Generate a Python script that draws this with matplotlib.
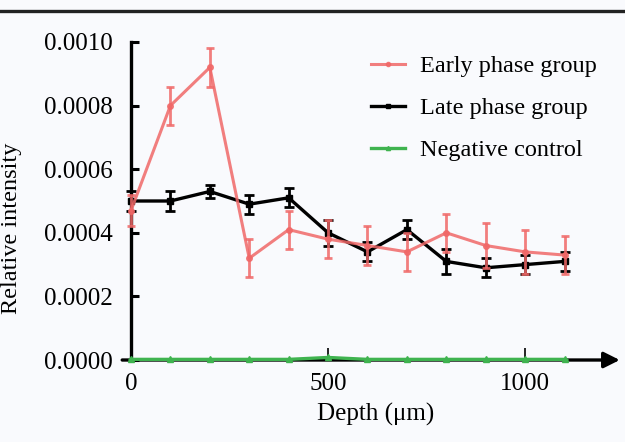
import numpy as np
import matplotlib.pyplot as plt
from matplotlib.lines import Line2D

plt.rcParams['font.family'] = ['Liberation Serif', 'DejaVu Serif']

depth = [0, 100, 200, 300, 400, 500, 600, 700, 800, 900, 1000, 1100]

early = [0.00047, 0.00080, 0.00092, 0.00032, 0.00041, 0.00038,
         0.00036, 0.00034, 0.00040, 0.00036, 0.00034, 0.00033]
early_err = [0.00005, 0.00006, 0.00006, 0.00006, 0.00006, 0.00006,
             0.00006, 0.00006, 0.00006, 0.00007, 0.00007, 0.00006]

late = [0.00050, 0.00050, 0.00053, 0.00049, 0.00051, 0.00040,
        0.00034, 0.00041, 0.00031, 0.00029, 0.00030, 0.00031]
late_err = [0.00003, 0.00003, 0.00002, 0.00003, 0.00003, 0.00004,
            0.00003, 0.00003, 0.00004, 0.00003, 0.00003, 0.00003]

neg = [0.000002, 0.000002, 0.000002, 0.000002, 0.000002, 0.000008,
       0.000002, 0.000002, 0.000002, 0.000002, 0.000002, 0.000002]
neg_err = [0.000001] * 12

red = '#f06868'
green = '#3fb34f'

bg = '#f9fafd'
fig = plt.figure(figsize=(6.25, 4.42), dpi=100, facecolor=bg)
ax = fig.add_axes([0.2096, 0.1855, 0.782, 0.7195], facecolor=bg)

# top rule across the figure
fig.add_artist(Line2D([0, 1], [0.975, 0.975], color='#222222', lw=2.4,
                      transform=fig.transFigure))

ax.errorbar(depth, late, yerr=late_err, color='black', lw=2.4, marker='s',
            ms=4, capsize=3.5, capthick=2, elinewidth=2, clip_on=False, zorder=3)
ax.errorbar(depth, early, yerr=early_err, color=red, alpha=0.85, lw=2.2,
            marker='o', ms=4, capsize=3, capthick=2, elinewidth=2,
            clip_on=False, zorder=4)
ax.errorbar(depth, neg, yerr=neg_err, color=green, lw=2.4, marker='^',
            ms=4, capsize=2, clip_on=False, zorder=5)

ax.set_xlim(0, 1240)
ax.set_ylim(0, 0.001)
ax.set_xticks([0, 500, 1000])
ax.set_yticks(np.arange(0, 0.00101, 0.0002))
ax.yaxis.set_major_formatter(plt.FuncFormatter(lambda v, p: f'{v:.4f}'))

for s in ['top', 'right', 'bottom']:
    ax.spines[s].set_visible(False)
ax.spines['left'].set_linewidth(2.4)

ax.tick_params(axis='y', direction='in', length=6, width=2.2, pad=13,
               labelsize=18)
ax.tick_params(axis='x', direction='in', length=9, width=1.2, pad=9,
               labelsize=18)

# x axis with arrow head
ax.annotate('', xy=(1.0, 0), xytext=(-0.018, 0), xycoords='axes fraction',
            arrowprops=dict(arrowstyle='-|>', lw=2.4, color='black',
                            mutation_scale=24, shrinkA=0, shrinkB=0),
            zorder=2)

ax.set_xlabel('Depth (μm)', fontsize=18, labelpad=6)
ax.set_ylabel('Relative intensity', fontsize=17.5)
ax.yaxis.set_label_coords(-0.223, 0.415)

handles = [Line2D([], [], color=red, alpha=0.85, lw=2.2, marker='o', ms=3),
           Line2D([], [], color='black', lw=2.4, marker='s', ms=3),
           Line2D([], [], color=green, lw=2.4, marker='^', ms=3)]
labels = ['Early phase group', 'Late phase group', 'Negative control']
ax.legend(handles, labels, loc='upper right', bbox_to_anchor=(0.997, 1.027),
          frameon=False, fontsize=17.5, labelspacing=0.82, handlelength=1.4,
          handletextpad=0.58)

fig.savefig('out.png', dpi=100, facecolor=bg)
